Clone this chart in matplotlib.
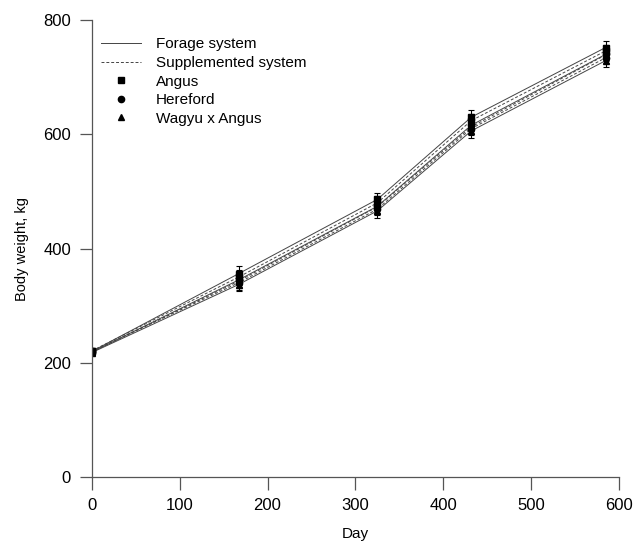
import matplotlib
matplotlib.use('Agg')
import matplotlib.pyplot as plt
from matplotlib.lines import Line2D

plt.rcParams['font.family'] = ['Liberation Sans', 'DejaVu Sans']

# sampling days
days = [0, 167, 325, 432, 585]

# body weight (kg) per breed x system
angus_forage = [220, 356, 486, 630, 752]
angus_supp = [221, 350, 480, 624, 746]
hereford_forage = [219, 345, 474, 616, 740]
hereford_supp = [220, 340, 469, 610, 734]
wagyu_forage = [218, 337, 466, 606, 729]
wagyu_supp = [219, 343, 473, 613, 739]

# standard errors
se_angus = [5, 13, 12, 12, 11]
se_hereford = [5, 12, 11, 11, 10]
se_wagyu = [5, 12, 12, 12, 11]

series = [
    (angus_forage, se_angus, 's', '-'),
    (angus_supp, se_angus, 's', '--'),
    (hereford_forage, se_hereford, 'o', '-'),
    (hereford_supp, se_hereford, 'o', '--'),
    (wagyu_forage, se_wagyu, '^', '-'),
    (wagyu_supp, se_wagyu, '^', '--'),
]

fig = plt.figure(figsize=(6.34, 5.43), dpi=100)
ax = fig.add_axes([0.145, 0.1215, 0.831, 0.8415])

for vals, se, marker, ls in series:
    ax.plot(days, vals, color='#444444', linestyle=ls, linewidth=0.7,
            dashes=(3, 2) if ls == '--' else (None, None))
    ax.errorbar(days, vals, yerr=se, fmt=marker, color='black', markersize=4.5,
                elinewidth=0.8, capsize=2.5, capthick=0.8, linestyle='none')

ax.set_xlim(0, 600)
ax.set_ylim(0, 800)
ax.set_xticks(range(0, 601, 100))
ax.set_yticks(range(0, 801, 200))
ax.tick_params(direction='out', length=9, width=0.9, colors='#555555',
               labelcolor='black', labelsize=12, pad=6)
for side in ['top', 'right']:
    ax.spines[side].set_visible(False)
for side in ['left', 'bottom']:
    ax.spines[side].set_color('#555555')
    ax.spines[side].set_linewidth(0.9)

ax.set_xlabel('Day', fontsize=11, labelpad=10)
ax.set_ylabel('Body weight, kg', fontsize=10.5, labelpad=10)

handles = [
    Line2D([], [], color='#444444', linestyle='-', linewidth=0.7),
    Line2D([], [], color='#444444', linestyle='--', dashes=(3, 2), linewidth=0.7),
    Line2D([], [], color='black', marker='s', linestyle='none', markersize=4.5),
    Line2D([], [], color='black', marker='o', linestyle='none', markersize=4.5),
    Line2D([], [], color='black', marker='^', linestyle='none', markersize=4.5),
]
labels = ['Forage system', 'Supplemented system', 'Angus', 'Hereford', 'Wagyu x Angus']
ax.legend(handles, labels, loc='upper left', bbox_to_anchor=(0.0, 0.982),
          frameon=False, fontsize=11, handlelength=2.6, labelspacing=0.3,
          handletextpad=1.0, borderaxespad=0.2)

fig.savefig('out.png', dpi=100)
